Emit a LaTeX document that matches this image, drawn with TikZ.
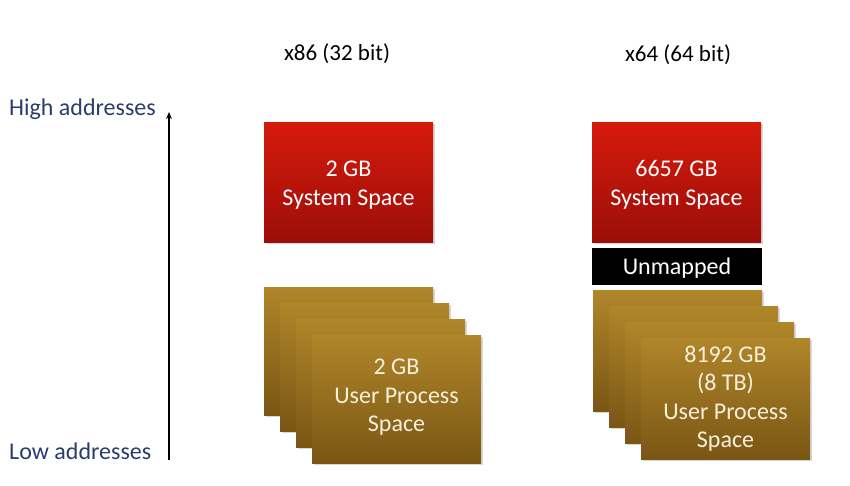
\documentclass[tikz,border=0pt]{standalone}
\usepackage{fontspec}
\setmainfont{Carlito}
\usetikzlibrary{shadows,arrows.meta}
\definecolor{addr}{HTML}{2B3D6B}
\definecolor{sysTop}{HTML}{D61A0C}
\definecolor{sysBot}{HTML}{9C0E09}
\definecolor{usrTop}{HTML}{B0862A}
\definecolor{usrBot}{HTML}{7A5614}
\definecolor{usrText}{HTML}{F6F0DC}
\begin{document}
\begin{tikzpicture}[x=1pt,y=-1pt,
  boxshadow/.style={drop shadow={opacity=0.3,shadow xshift=1.5pt,shadow yshift=-2pt}},
  sysbox/.style={rectangle, minimum width=169pt, minimum height=120pt, inner sep=0pt,
    top color=sysTop, bottom color=sysBot, text=white, align=center,
    font=\fontsize{24}{29}\selectfont, boxshadow},
  blackbox/.style={rectangle, minimum width=170pt, minimum height=37pt, inner sep=0pt,
    fill=black, text=white, font=\fontsize{24}{29}\selectfont},
  usrbox/.style={rectangle, minimum width=169pt, inner sep=0pt,
    top color=usrTop, bottom color=usrBot, text=usrText, align=center,
    font=\fontsize{24}{28.5}\selectfont, boxshadow},
  title/.style={font=\fontsize{23}{26}\selectfont, text=black},
  addrlabel/.style={font=\fontsize{24}{26}\selectfont, text=addr, anchor=west, inner sep=0pt}
]
\fill[white] (0,0) rectangle (850,485);
\useasboundingbox (0,0) rectangle (850,485);

% titles
\node[title] (t86) at (337,54) {x86 (32 bit)};
\node[title] (t64) at (678,55) {x64 (64 bit)};

% address axis
\node[addrlabel] (high) at (9,109) {High addresses};
\node[addrlabel] (low) at (9,451) {Low addresses};
\coordinate (axlow) at (169,460);
\coordinate (axhigh) at (169,112);
\draw[line width=2pt, -{Stealth[length=7pt,width=6pt]}] (axlow) -- (axhigh);

% x86 column
\node[sysbox] (sys86) at (348.5,182) {\rule{0pt}{22pt}2 GB\\System Space};
\node[usrbox, minimum height=128pt] (u86a) at (348.5,351) {};
\node[usrbox, minimum height=128pt] (u86b) at (364.5,367) {};
\node[usrbox, minimum height=128pt] (u86c) at (380.5,383) {};
\node[usrbox, minimum height=128pt] (u86d) at (396.5,399) {2 GB\\User Process\\Space\rule[-7pt]{0pt}{0pt}};

% x64 column
\node[sysbox] (sys64) at (676.5,182) {\rule{0pt}{22pt}6657 GB\\System Space};
\node[blackbox] (unm) at (677,266.5) {\rule{0pt}{20pt}Unmapped};
\node[usrbox, minimum height=121pt] (u64a) at (677.5,350.5) {};
\node[usrbox, minimum height=121pt] (u64b) at (693.5,366.5) {};
\node[usrbox, minimum height=121pt] (u64c) at (709.5,382.5) {};
\node[usrbox, minimum height=121pt] (u64d) at (725.5,398.5) {8192 GB\\(8 TB)\\User Process\\Space\rule[-2pt]{0pt}{0pt}};
\end{tikzpicture}
\end{document}
